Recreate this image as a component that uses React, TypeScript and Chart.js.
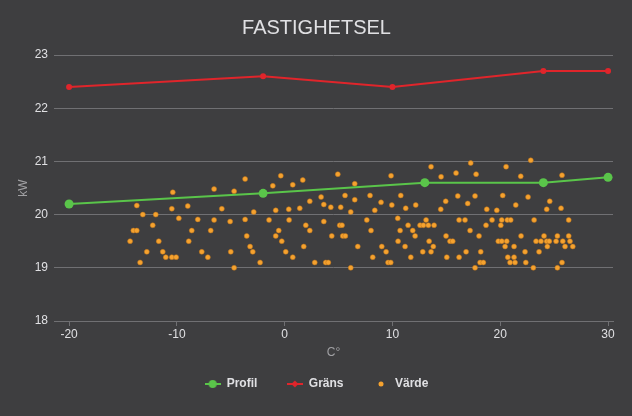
import React, { useEffect, useRef } from "react";
import { Chart, registerables } from "chart.js";

Chart.register(...registerables);

const chartTitle = "FASTIGHETSEL";
const xTitle = "C°";
const yTitle = "kW";

const profilX = [-20, -2, 13, 24, 30];
const profilY = [20.2, 20.4, 20.6, 20.6, 20.7];

const gransX = [-20, -2, 10, 24, 30];
const gransY = [22.4, 22.6, 22.4, 22.7, 22.7];

const vardeX = [
  -13.72, -10.38, -6.55, -4.69, -3.67, -13.16, -11.96, -10.47, -8.99, -5.83,
  -12.24, -9.82, -8.06, -6.55, -5.06, -3.67, -14.04, -13.72, -8.62, -6.86,
  -14.34, -11.68, -8.9, -12.79, -11.31, -7.69, -5.0, -13.41, -11.03, -10.47,
  -10.07, -7.13, -4.69, -0.36, -1.1, 0.75, 1.68, 4.93, 6.5, 3.38,
  5.6, 2.33, 3.63, 6.5, -2.87, -0.83, 0.38, 1.4, 4.28, 5.2,
  6.13, -1.45, 0.41, 3.63, 1.96, 5.11, 5.32, -0.55, 2.33, -3.52,
  -0.83, 4.37, 5.39, 5.63, -0.27, -3.21, 1.77, 6.78, -2.96, 0.1,
  0.75, -2.28, 2.79, 3.81, 4.05, 6.13, 13.58, 17.26, 9.87, 14.51,
  15.9, 17.76, 7.92, 10.77, 16.06, 17.66, 8.94, 14.94, 16.98, 9.94,
  12.16, 8.36, 11.23, 14.48, 7.62, 10.49, 13.12, 16.18, 16.73, 11.45,
  12.56, 12.87, 13.33, 13.86, 8.01, 10.71, 11.88, 17.2, 12.1, 14.97,
  18.03, 10.52, 13.4, 15.34, 15.59, 9.01, 11.17, 13.79, 9.41, 12.81,
  13.58, 16.83, 18.19, 8.17, 11.7, 15.04, 16.18, 9.59, 9.84, 18.13,
  18.43, 17.66, 22.83, 20.54, 21.9, 25.73, 20.23, 22.58, 24.59, 21.44,
  18.75, 19.68, 24.31, 25.64, 19.24, 20.14, 20.66, 20.97, 23.14, 26.35,
  18.68, 20.05, 21.93, 24.06, 25.3, 26.35, 19.82, 20.14, 20.6, 23.32,
  23.78, 24.31, 24.55, 25.18, 25.8, 26.47, 20.45, 21.28, 24.37, 26.01,
  26.73, 22.3, 23.6, 20.7, 21.28, 20.91, 21.37, 22.37, 25.73, 23.07,
  25.3,
];

const vardeY = [
  20.17, 20.42, 20.48, 20.44, 20.67, 20.0, 20.0, 20.11, 20.16, 20.11,
  19.8, 19.93, 19.91, 19.9, 19.87, 19.91, 19.7, 19.7, 19.7, 19.7,
  19.5, 19.5, 19.5, 19.3, 19.3, 19.3, 19.3, 19.1, 19.2, 19.2,
  19.2, 19.2, 19.0, 20.73, 20.54, 20.56, 20.65, 20.76, 20.58, 20.33,
  20.36, 20.25, 20.19, 20.28, 20.05, 20.08, 20.1, 20.12, 20.14, 20.14,
  20.05, 19.9, 19.9, 19.87, 19.8, 19.8, 19.8, 19.7, 19.7, 19.6,
  19.6, 19.6, 19.6, 19.6, 19.5, 19.4, 19.4, 19.4, 19.3, 19.3,
  19.2, 19.1, 19.1, 19.1, 19.1, 19.0, 20.9, 20.97, 20.73, 20.71,
  20.78, 20.76, 20.36, 20.36, 20.35, 20.35, 20.23, 20.25, 20.21, 20.18,
  20.18, 20.08, 20.12, 20.1, 19.9, 19.93, 19.9, 19.9, 19.9, 19.8,
  19.8, 19.8, 19.8, 19.8, 19.7, 19.7, 19.7, 19.7, 19.6, 19.6,
  19.6, 19.5, 19.5, 19.5, 19.5, 19.4, 19.4, 19.4, 19.3, 19.3,
  19.3, 19.3, 19.3, 19.2, 19.2, 19.2, 19.2, 19.1, 19.1, 19.1,
  19.1, 19.0, 21.02, 20.9, 20.72, 20.74, 20.36, 20.33, 20.25, 20.18,
  20.1, 20.08, 20.1, 20.12, 19.9, 19.9, 19.9, 19.9, 19.9, 19.9,
  19.8, 19.8, 19.6, 19.6, 19.6, 19.6, 19.5, 19.5, 19.5, 19.5,
  19.5, 19.5, 19.5, 19.5, 19.5, 19.5, 19.4, 19.4, 19.4, 19.4,
  19.4, 19.3, 19.3, 19.2, 19.2, 19.1, 19.1, 19.1, 19.1, 19.0,
  19.0,
];

const xTicks = [-20, -10, 0, 10, 20, 30];
const yTicks = [18, 19, 20, 21, 22, 23];

const BG = "#3e3e40";
const TEXT = "#e0e0e3";
const AXIS_TITLE = "#a0a0a3";
const GRID = "#707073";
const GREEN = "#5ac54a";
const RED = "#e0252b";
const ORANGE = "#f5a22f";

function makeIcon(color: string, withLine: boolean, r: number, diamond: boolean) {
  const c = document.createElement("canvas");
  c.width = 16;
  c.height = 10;
  const ctx = c.getContext("2d")!;
  if (withLine) {
    ctx.strokeStyle = color;
    ctx.lineWidth = 2;
    ctx.beginPath();
    ctx.moveTo(0, 5);
    ctx.lineTo(16, 5);
    ctx.stroke();
  }
  ctx.fillStyle = color;
  ctx.beginPath();
  if (diamond) {
    ctx.moveTo(8, 5 - r);
    ctx.lineTo(8 + r, 5);
    ctx.lineTo(8, 5 + r);
    ctx.lineTo(8 - r, 5);
    ctx.closePath();
  } else {
    ctx.arc(8, 5, r, 0, Math.PI * 2);
  }
  ctx.fill();
  return c;
}

export default function App() {
  const ref = useRef<HTMLCanvasElement | null>(null);

  useEffect(() => {
    if (!ref.current) return;
    Chart.defaults.font.family = "'Liberation Sans', Arial, sans-serif";
    const icons = [
      makeIcon(GREEN, true, 4, false),
      makeIcon(RED, true, 3.5, true),
      makeIcon(ORANGE, false, 2.5, false),
    ];
    const chart = new Chart(ref.current, {
      type: "scatter",
      data: {
        datasets: [
          {
            label: "Profil",
            data: profilX.map((x, i) => ({ x, y: profilY[i] })),
            showLine: true,
            borderColor: GREEN,
            backgroundColor: GREEN,
            borderWidth: 2,
            pointRadius: 4.5,
            pointBorderWidth: 0,
            pointStyle: "circle",
          },
          {
            label: "Gräns",
            data: gransX.map((x, i) => ({ x, y: gransY[i] })),
            showLine: true,
            borderColor: RED,
            backgroundColor: RED,
            borderWidth: 2,
            pointRadius: 3,
            pointBorderWidth: 0,
            pointStyle: "circle",
          },
          {
            label: "Värde",
            data: vardeX.map((x, i) => ({ x, y: vardeY[i] })),
            showLine: false,
            borderColor: "#b8701a",
            backgroundColor: ORANGE,
            borderWidth: 0.5,
            pointRadius: 2.5,
            pointStyle: "circle",
          },
        ],
      },
      options: {
        animation: false,
        responsive: true,
        maintainAspectRatio: false,
        layout: { padding: { left: 20, right: 19, top: 0, bottom: 16 } },
        plugins: {
          tooltip: { enabled: false },
          title: {
            display: true,
            text: chartTitle,
            color: TEXT,
            font: { size: 20, weight: "normal" },
            padding: { top: 16, bottom: 15 },
          },
          legend: {
            position: "bottom",
            labels: {
              color: TEXT,
              font: { size: 12, weight: "bold" },
              usePointStyle: true,
              pointStyleWidth: 16,
              padding: 29.5,
              generateLabels: (ch: any) => {
                const base = Chart.defaults.plugins.legend.labels.generateLabels(ch);
                return base.map((l: any, i: number) => ({ ...l, pointStyle: icons[i] }));
              },
            },
          },
        },
        scales: {
          x: {
            type: "linear",
            min: -21.4,
            max: 30.46,
            afterBuildTicks: (s: any) => {
              s.ticks = xTicks.map((v) => ({ value: v }));
            },
            afterFit: (s: any) => {
              s.height = 27.5;
            },
            ticks: { color: TEXT, font: { size: 12 }, padding: 1, maxRotation: 0, autoSkip: false },
            grid: { drawOnChartArea: false, drawTicks: true, tickLength: 5, color: GRID },
            border: { display: true, color: GRID, width: 1 },
            title: {
              display: true,
              text: xTitle,
              color: AXIS_TITLE,
              font: { size: 12 },
              padding: { top: 0, bottom: -11.7 },
            },
          },
          y: {
            type: "linear",
            min: 18,
            max: 23,
            afterBuildTicks: (s: any) => {
              s.ticks = yTicks.map((v) => ({ value: v }));
            },
            afterFit: (s: any) => {
              s.width = 34;
            },
            ticks: { color: TEXT, font: { size: 12 }, padding: 6 },
            grid: { color: GRID, drawTicks: false },
            border: { display: false },
            title: {
              display: true,
              text: yTitle,
              color: AXIS_TITLE,
              font: { size: 12 },
              padding: { top: -4, bottom: 0 },
            },
          },
        },
      },
    } as any);
    return () => chart.destroy();
  }, []);

  return (
    <div
      style={{
        position: "absolute",
        left: 0,
        top: 0,
        width: 632,
        height: 416,
        background: BG,
      }}
    >
      <canvas ref={ref} />
    </div>
  );
}
